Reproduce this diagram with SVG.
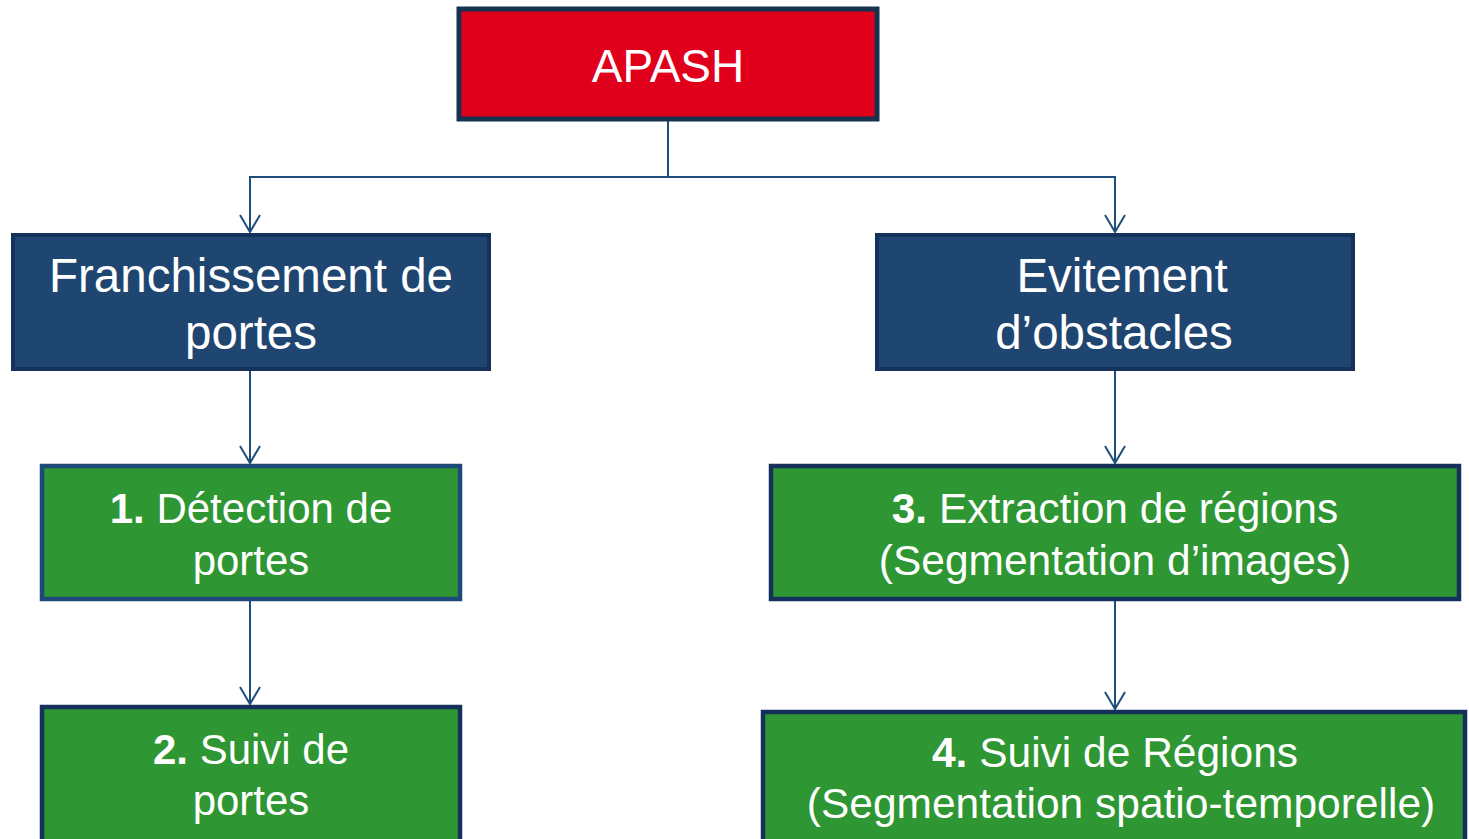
<svg xmlns="http://www.w3.org/2000/svg" width="1469" height="839" viewBox="0 0 1469 839">
<defs>
<style>
.t{font-family:"Liberation Sans",Arial,sans-serif;fill:#ffffff;text-anchor:middle}
.b{font-weight:bold}
.red{fill:#e0001b;stroke:#17324f;stroke-width:5}
.navy{fill:#1f4670;stroke:#15325a;stroke-width:4}
.green{fill:#2e9632;stroke:#1e4a7a;stroke-width:4.5}
.green2{fill:#2e9632;stroke:#15305a;stroke-width:4.5}
.c{fill:none;stroke:#1f4e7d;stroke-width:2}
</style>
<marker id="arr" viewBox="-19 -12 21 24" refX="0" refY="0" markerWidth="21" markerHeight="24" markerUnits="userSpaceOnUse" orient="auto">
<path d="M-17,-10 L0,0 L-17,10" fill="none" stroke="#1f4e7d" stroke-width="2"/>
</marker>
</defs>
<rect width="1469" height="839" fill="#ffffff"/>
<g id="connectors">
<path class="c" d="M668,121 V177"/>
<path class="c" d="M668,177 H250 V232" marker-end="url(#arr)"/>
<path class="c" d="M668,177 H1115 V232" marker-end="url(#arr)"/>
<path class="c" d="M250,370 V463" marker-end="url(#arr)"/>
<path class="c" d="M250,601 V704" marker-end="url(#arr)"/>
<path class="c" d="M1115,370 V463" marker-end="url(#arr)"/>
<path class="c" d="M1115,601 V709" marker-end="url(#arr)"/>
</g>
<g id="apash">
<rect class="red" x="459" y="9" width="418" height="110"/>
<text class="t" x="668" y="82" font-size="46">APASH</text>
</g>
<g id="franchissement">
<rect class="navy" x="13" y="235" width="476" height="134"/>
<text class="t" x="251" y="292" font-size="47.5">Franchissement de</text>
<text class="t" x="251" y="349" font-size="47.5">portes</text>
</g>
<g id="evitement">
<rect class="navy" x="877" y="235" width="476" height="134"/>
<text class="t" x="1122" y="292" font-size="47.5">Evitement</text>
<text class="t" x="1114" y="349" font-size="47.5">d’obstacles</text>
</g>
<g id="detection">
<rect class="green" x="42" y="466" width="418" height="133"/>
<text class="t" x="251" y="523" font-size="42"><tspan class="b">1.</tspan> Détection de</text>
<text class="t" x="251" y="575" font-size="42">portes</text>
</g>
<g id="suivi-portes">
<rect class="green2" x="42" y="707" width="418" height="145"/>
<text class="t" x="251" y="764" font-size="42"><tspan class="b">2.</tspan> Suivi de</text>
<text class="t" x="251" y="815" font-size="42">portes</text>
</g>
<g id="extraction">
<rect class="green2" x="771" y="466" width="688" height="133"/>
<text class="t" x="1115" y="523" font-size="42.5"><tspan class="b">3.</tspan> Extraction de régions</text>
<text class="t" x="1115" y="575" font-size="42.5">(Segmentation d’images)</text>
</g>
<g id="suivi-regions">
<rect class="green2" x="763" y="712" width="702" height="140"/>
<text class="t" x="1115" y="767" font-size="42.5"><tspan class="b">4.</tspan> Suivi de Régions</text>
<text class="t" x="1121" y="818" font-size="42.5">(Segmentation spatio-temporelle)</text>
</g>
</svg>
